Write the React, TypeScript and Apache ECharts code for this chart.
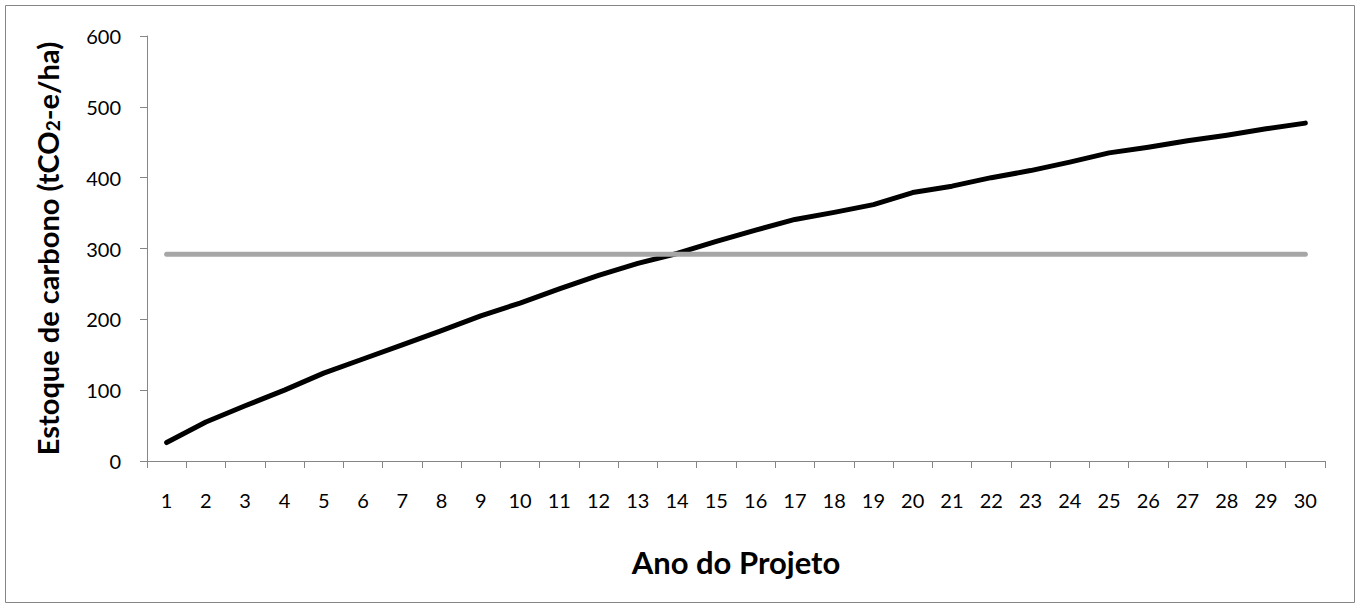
import React, { useEffect, useRef } from "react";
import * as echarts from "echarts";

const years = Array.from({ length: 30 }, (_, i) => String(i + 1));
const projectStock = [26, 55, 78, 100, 124, 144, 164, 184, 205, 223, 243, 262, 279, 293, 310, 326, 341, 351, 362, 379, 388, 400, 410, 422, 435, 443, 452, 460, 469, 477];
const baselineStock = Array.from({ length: 30 }, () => 292);
const yTicks = { min: 0, max: 600, interval: 100 };

const FONT = "Lato, 'Open Sans', sans-serif";

export default function App() {
  const ref = useRef<HTMLDivElement>(null);
  useEffect(() => {
    document.body.style.margin = "0";
    const chart = echarts.init(ref.current!, undefined, { renderer: "svg" });
    chart.setOption({
      animation: false,
      backgroundColor: "#ffffff",
      grid: { left: 147, right: 34, top: 36, bottom: 147, containLabel: false },
      graphic: [
        {
          type: "rect",
          shape: { x: 5.5, y: 5.5, width: 1349, height: 597 },
          style: { fill: "none", stroke: "#868686", lineWidth: 1 },
          silent: true,
        },
      ],
      xAxis: {
        type: "category",
        data: years,
        boundaryGap: true,
        name: "Ano do Projeto",
        nameLocation: "middle",
        nameGap: 85,
        nameTextStyle: { fontFamily: FONT, fontWeight: "bold", fontSize: 31, color: "#000" },
        axisLine: { lineStyle: { color: "#868686", width: 1 } },
        axisTick: { show: true, length: 7, inside: false, lineStyle: { color: "#868686" } },
        axisLabel: { fontFamily: FONT, fontSize: 20, color: "#000", margin: 29, interval: 0 },
        splitLine: { show: false },
      },
      yAxis: {
        type: "value",
        min: yTicks.min,
        max: yTicks.max,
        interval: yTicks.interval,
        name: "{a|Estoque de carbono (tCO}{s|2}{a|-e/ha)}",
        nameLocation: "middle",
        nameGap: 85,
        nameRotate: 90,
        nameTextStyle: {
          rich: {
            a: { fontFamily: FONT, fontWeight: "bold", fontSize: 29, color: "#000", verticalAlign: "bottom", lineHeight: 34 },
            s: { fontFamily: FONT, fontWeight: "bold", fontSize: 19, color: "#000", verticalAlign: "bottom", lineHeight: 26 },
          },
        },
        axisLine: { show: true, lineStyle: { color: "#868686", width: 1 } },
        axisTick: { show: true, length: 7, inside: false, lineStyle: { color: "#868686" } },
        axisLabel: { fontFamily: FONT, fontSize: 20, color: "#000", margin: 26 },
        splitLine: { show: false },
      },
      series: [
        {
          name: "Projeto",
          type: "line",
          data: projectStock,
          symbol: "none",
          lineStyle: { color: "#000000", width: 5, cap: "round", join: "round" },
          z: 2,
        },
        {
          name: "Linha de base",
          type: "line",
          data: baselineStock,
          symbol: "none",
          lineStyle: { color: "#A6A6A6", width: 5, cap: "round", join: "round" },
          z: 3,
        },
      ],
    });
    return () => chart.dispose();
  }, []);
  return (
    <div
      ref={ref}
      style={{ position: "fixed", left: 0, top: 0, width: 1359, height: 608 }}
    />
  );
}
